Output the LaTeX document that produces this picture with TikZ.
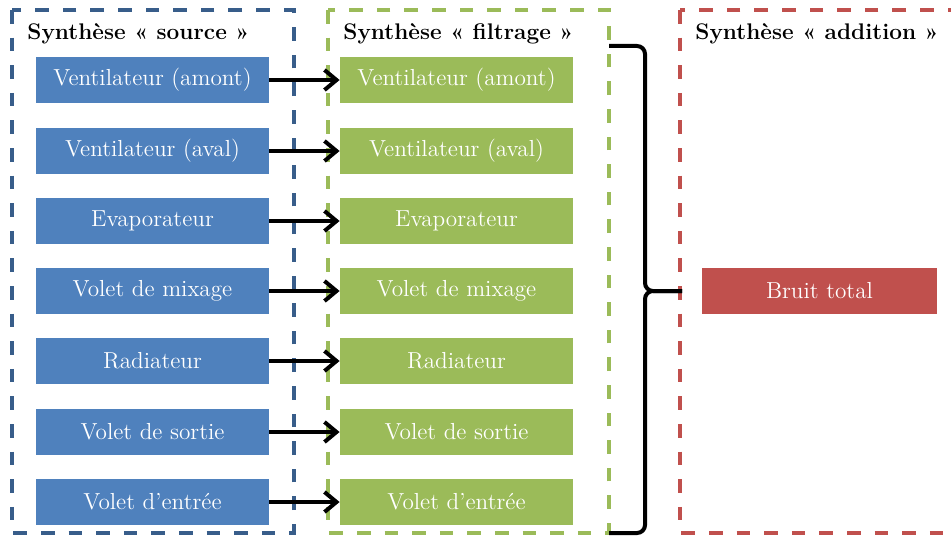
\documentclass[tikz,border=0pt]{standalone}
\usepackage{amsmath}
\usepackage{tikz}
\usetikzlibrary{arrows.meta}

\definecolor{srcblue}{HTML}{4F81BD}
\definecolor{srcframe}{HTML}{385D8A}
\definecolor{filtgreen}{HTML}{9BBB59}
\definecolor{addred}{HTML}{C0504D}

\begin{document}
\begin{tikzpicture}[
		x=0.5pt, y=-0.5pt,
		every node/.style={inner sep=0pt, font=\fontsize{11.6}{13}\selectfont},
		srcbox/.style={fill=srcblue, text=white, minimum width=116.5pt, minimum height=23pt},
		filtbox/.style={fill=filtgreen, text=white, minimum width=116.5pt, minimum height=23pt},
		addbox/.style={fill=addred, text=white, minimum width=117.5pt, minimum height=23pt},
		frame/.style={line width=1.6pt, dash pattern=on 6.8pt off 7pt},
		title/.style={anchor=base west, font=\fontsize{11.3}{13}\selectfont\bfseries},
		flow/.style={line width=2pt, -{Straight Barb[length=6pt, width=10pt, line width=2pt]}},
		brace/.style={line width=2pt, rounded corners=4pt}
	]
  \useasboundingbox (0,0) rectangle (951,535);
  % cadres
  \draw[frame, srcframe] (12,10) rectangle (294,533);
  \draw[frame, filtgreen] (328,10) rectangle (609,533);
  \draw[frame, addred] (680,10) rectangle (960,533);
  \node (t_source) [title] at (27,40) {Synthèse « source »};
  \node (t_filtre) [title] at (343,40) {Synthèse « filtrage »};
  \node (t_add) [title] at (695,40) {Synthèse « addition »};
  % sources
  \node (s_amont) [srcbox] at (152.5,80) {Ventilateur (amont)};
  \node (s_aval) [srcbox] at (152.5,151) {Ventilateur (aval)};
  \node (s_evap) [srcbox] at (152.5,221) {Evaporateur};
  \node (s_mix) [srcbox] at (152.5,291) {Volet de mixage};
  \node (s_rad) [srcbox] at (152.5,361) {Radiateur};
  \node (s_sortie) [srcbox] at (152.5,432) {Volet de sortie};
  \node (s_entree) [srcbox] at (152.5,502) {Volet d’entrée};
  % filtrage
  \node (f_amont) [filtbox] at (456.5,80) {Ventilateur (amont)};
  \node (f_aval) [filtbox] at (456.5,151) {Ventilateur (aval)};
  \node (f_evap) [filtbox] at (456.5,221) {Evaporateur};
  \node (f_mix) [filtbox] at (456.5,291) {Volet de mixage};
  \node (f_rad) [filtbox] at (456.5,361) {Radiateur};
  \node (f_sortie) [filtbox] at (456.5,432) {Volet de sortie};
  \node (f_entree) [filtbox] at (456.5,502) {Volet d’entrée};
  % addition
  \node (total) [addbox] at (819.5,291) {Bruit total};
  \draw (s_amont) edge [flow] (f_amont);
  \draw (s_aval) edge [flow] (f_aval);
  \draw (s_evap) edge [flow] (f_evap);
  \draw (s_mix) edge [flow] (f_mix);
  \draw (s_rad) edge [flow] (f_rad);
  \draw (s_sortie) edge [flow] (f_sortie);
  \draw (s_entree) edge [flow] (f_entree);
  % accolade
  \coordinate (b_top) at (609,46);
  \coordinate (b_bot) at (609,533);
  \coordinate (b_tip) at (682,291);
  \draw[brace] (b_top) -- (645,46) -- (645,291) -- (b_tip);
  \draw[brace] (b_tip) -- (645,291) -- (645,533) -- (b_bot);
\end{tikzpicture}
\end{document}
